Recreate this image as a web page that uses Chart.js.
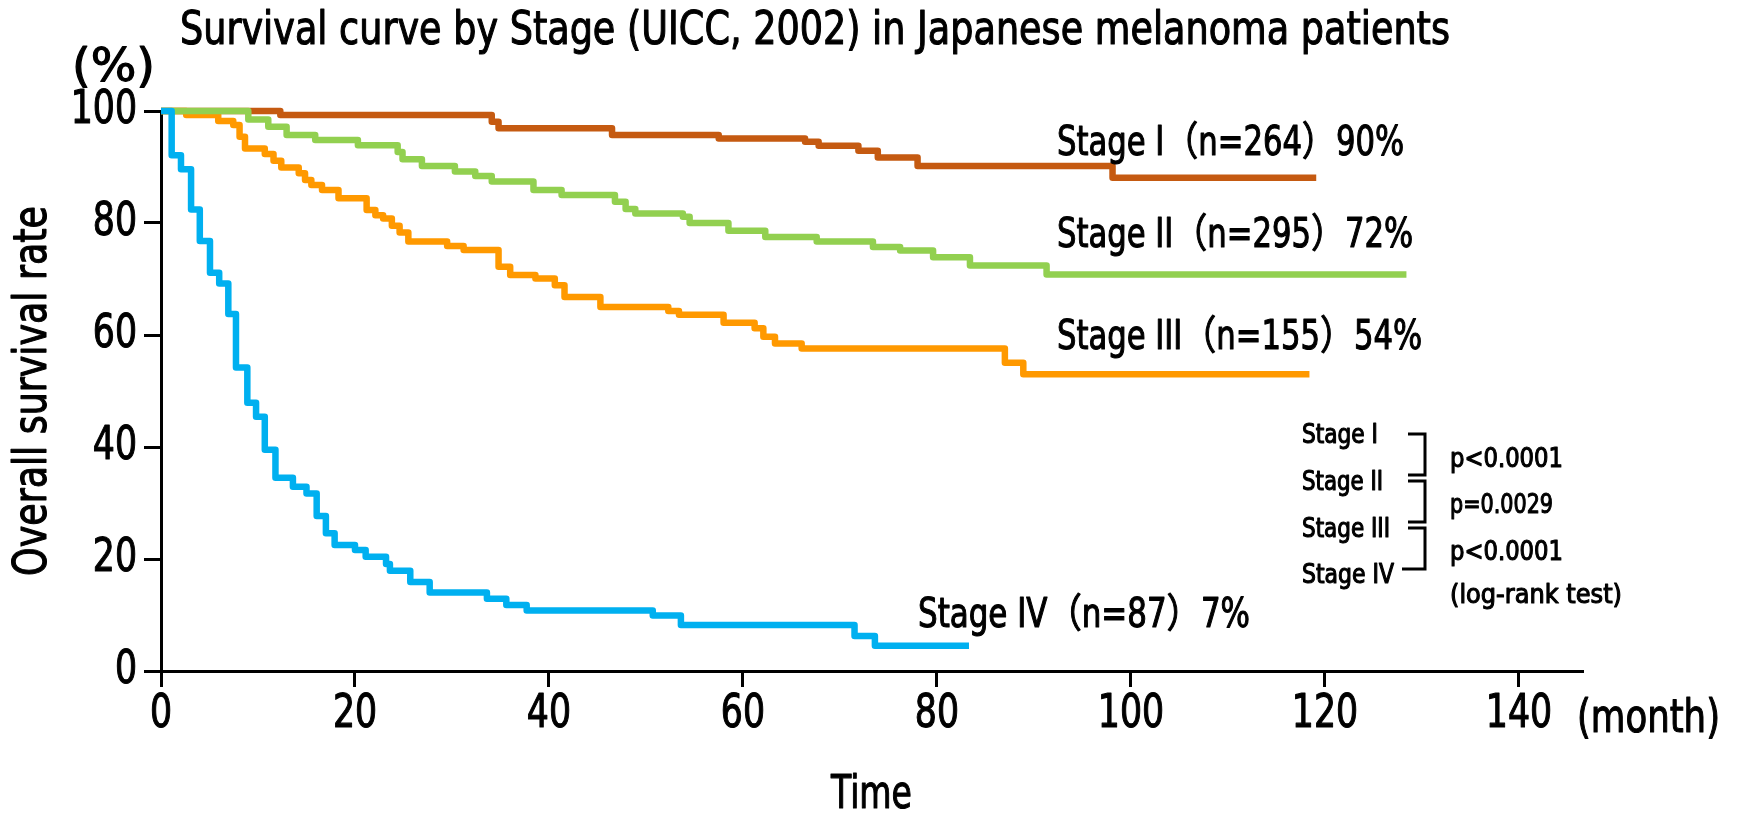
<!DOCTYPE html>
<html><head><meta charset="utf-8">
<script src="https://cdn.jsdelivr.net/npm/chart.js@4/dist/chart.umd.min.js"></script>
<style>html,body{margin:0;padding:0;background:#fff;}</style>
</head><body>
<canvas id="c" width="1740" height="814" style="display:block;width:1740px;height:814px"></canvas>
<script>
// ---- data (months, overall survival %) ----
const stageLabels = ['Stage I（n=264）90%', 'Stage II（n=295）72%', 'Stage III（n=155）54%', 'Stage IV（n=87）7%'];
const stage1Months = [0, 12.3, 34.1, 34.8, 46.5, 57.5, 66.4, 67.8, 71.9, 73.9, 78.0, 98.1, 119.1];
const stage1Surv   = [100, 99.3, 98.1, 96.9, 95.7, 95.1, 94.5, 93.8, 92.9, 91.7, 90.2, 88.1, 88.1];
const stage2Months = [0, 9.0, 11.06, 12.95, 15.9, 20.3, 24.4, 24.9, 26.9, 30.3, 32.4, 34.1, 38.4, 41.3, 46.8, 47.9, 48.9, 53.8, 54.5, 58.5, 62.3, 67.6, 73.4, 76.2, 79.6, 83.4, 91.3, 128.4];
const stage2Surv   = [100, 98.5, 97.2, 95.7, 94.8, 93.9, 92.7, 91.4, 90.2, 89.2, 88.4, 87.4, 85.9, 85.0, 83.8, 82.5, 81.7, 81.1, 80.0, 78.6, 77.5, 76.7, 75.7, 75.1, 73.9, 72.4, 70.8, 70.8];
const stage3Months = [0, 2.6, 5.9, 7.45, 8.1, 8.66, 10.7, 11.6, 12.4, 14.2, 14.85, 15.5, 16.6, 18.3, 21.2, 22.1, 22.9, 23.8, 24.6, 25.5, 29.5, 31.2, 34.8, 36.0, 38.6, 40.6, 41.6, 45.3, 52.3, 53.4, 58.0, 61.2, 62.1, 63.3, 66.05, 87.0, 88.9, 118.4];
const stage3Surv   = [100, 99.3, 98.2, 97.5, 95.4, 93.3, 92.3, 91.1, 89.9, 88.9, 87.7, 86.8, 85.9, 84.4, 82.3, 81.4, 80.8, 79.5, 78.3, 76.7, 75.9, 75.2, 72.2, 70.7, 70.1, 68.9, 66.8, 65.0, 64.3, 63.6, 62.2, 61.2, 59.7, 58.5, 57.6, 55.05, 53.0, 53.0];
const stage4Months = [0, 1.1, 2.06, 3.1, 4.0, 5.05, 6.0, 6.94, 7.73, 8.9, 9.8, 10.7, 11.8, 13.6, 15.0, 16.05, 17.0, 17.9, 20.0, 21.1, 23.2, 23.6, 25.7, 27.7, 33.6, 35.6, 37.7, 50.7, 53.6, 71.5, 73.6, 83.3];
const stage4Surv   = [100, 92.1, 89.6, 82.4, 76.8, 71.1, 69.2, 63.75, 54.2, 47.9, 45.4, 39.5, 34.5, 32.9, 31.7, 27.7, 24.6, 22.5, 21.6, 20.4, 19.1, 17.9, 15.9, 14.0, 12.9, 11.8, 10.8, 9.9, 8.2, 6.25, 4.5, 4.5];
const xTicks = [0, 20, 40, 60, 80, 100, 120, 140];
const yTicks = [0, 20, 40, 60, 80, 100];
const pairLabels = ['Stage I', 'Stage II', 'Stage III', 'Stage IV'];
const pValues = ['p<0.0001', 'p=0.0029', 'p<0.0001'];

const FONT = "'Liberation Sans Narrow', 'DejaVu Sans Condensed', 'Noto Sans CJK JP', sans-serif";
const colors = ['#C55A11', '#92D050', '#FF9900', '#00B0F0'];

// horizontal squeeze + slight emboldening for text drawn while active
const origFill = CanvasRenderingContext2D.prototype.fillText;
let HS = 1, EMB = 0;
CanvasRenderingContext2D.prototype.fillText = function (t, x, y, mw) {
  if (HS === 1 && !EMB) return origFill.call(this, t, x, y, mw);
  this.save();
  this.translate(x, y);
  this.scale(HS, 1);
  origFill.call(this, t, 0, 0);
  if (EMB) {
    this.lineWidth = EMB;
    this.lineJoin = 'round';
    this.strokeStyle = this.fillStyle;
    this.strokeText(t, 0, 0);
  }
  this.restore();
};

function pts(m, s) { return m.map((v, i) => ({ x: v, y: s[i] })); }

function fitText(ctx, text, x, y, width, size) {
  ctx.save();
  ctx.font = size + 'px ' + FONT;
  ctx.textBaseline = 'alphabetic';
  ctx.textAlign = 'left';
  ctx.fillStyle = '#000';
  const w = ctx.measureText(text).width;
  HS = width / w; EMB = 1.1;
  ctx.fillText(text, x, y);
  HS = 1; EMB = 0;
  ctx.restore();
}

const squeeze = { xTicks: 0.84, yTicks: 0.84, xTitle: 0.8, yTitle: 0.88 };

const textPlugin = {
  id: 'texts',
  afterLayout(chart) {
    ['x', 'y'].forEach(id => {
      const s = chart.scales[id];
      if (!s || s._sq) return;
      s._sq = true;
      const dl = s.drawLabels.bind(s), dt = s.drawTitle.bind(s);
      s.drawLabels = (...a) => { HS = squeeze[id + 'Ticks']; EMB = 1.1; dl(...a); HS = 1; EMB = 0; };
      s.drawTitle = (...a) => { HS = squeeze[id + 'Title']; EMB = 1.1; dt(...a); HS = 1; EMB = 0; };
    });
  },
  afterDraw(chart) {
    const ctx = chart.ctx;
    fitText(ctx, 'Survival curve by Stage (UICC, 2002) in Japanese melanoma patients', 180, 44, 1270, 46);
    fitText(ctx, '(%)', 72, 81, 83, 46);
    fitText(ctx, stageLabels[0], 1057, 155, 347, 40);
    fitText(ctx, stageLabels[1], 1057, 247, 356, 40);
    fitText(ctx, stageLabels[2], 1057, 349, 365, 40);
    fitText(ctx, stageLabels[3], 918, 627, 332, 40);
    fitText(ctx, '(month)', 1577, 732, 143, 46);
    const lb = [443, 490, 537, 583], lw = [76, 81, 88, 92];
    pairLabels.forEach((t, i) => fitText(ctx, t, 1302, lb[i], lw[i], 26));
    const pb = [467, 513, 560], pw = [113, 103, 113];
    pValues.forEach((t, i) => fitText(ctx, t, 1450, pb[i], pw[i], 27));
    fitText(ctx, '(log-rank test)', 1450, 603, 172, 27);
    ctx.save();
    ctx.strokeStyle = '#000';
    ctx.lineWidth = 3;
    ctx.lineCap = 'butt';
    const br = [[1408, 434, 475, 1408], [1408, 481, 522, 1408], [1408, 528, 569, 1402]];
    br.forEach(([x0, y0, y1, x2]) => {
      ctx.beginPath();
      ctx.moveTo(x0, y0); ctx.lineTo(1425, y0); ctx.lineTo(1425, y1); ctx.lineTo(x2, y1);
      ctx.stroke();
    });
    ctx.restore();
  }
};

const seriesM = [stage1Months, stage2Months, stage3Months, stage4Months];
const seriesS = [stage1Surv, stage2Surv, stage3Surv, stage4Surv];
const orders = [4, 2, 3, 1];

new Chart(document.getElementById('c'), {
  type: 'line',
  data: {
    datasets: seriesM.map((m, i) => ({
      label: stageLabels[i],
      data: pts(m, seriesS[i]),
      borderColor: colors[i],
      backgroundColor: colors[i],
      borderWidth: 6.5,
      stepped: 'before',
      pointRadius: 0,
      borderJoinStyle: 'round',
      borderCapStyle: 'butt',
      fill: false,
      clip: 12,
      order: orders[i]
    }))
  },
  options: {
    responsive: false,
    animation: false,
    devicePixelRatio: 1,
    layout: { padding: { top: 111, right: 158, bottom: 0, left: 0 } },
    plugins: { legend: { display: false }, tooltip: { enabled: false }, title: { display: false } },
    scales: {
      x: {
        type: 'linear', min: 0, max: 146.5,
        afterBuildTicks: s => { s.ticks = xTicks.map(v => ({ value: v })); },
        afterFit: s => { s.height = 143; },
        ticks: { color: '#000', padding: 0, font: { family: FONT, size: 46 }, maxRotation: 0, autoSkip: false },
        grid: { drawOnChartArea: false, drawTicks: true, tickLength: 16, color: '#000', lineWidth: 3 },
        border: { display: true, color: '#000', width: 3 },
        title: { display: true, text: 'Time', color: '#000', font: { family: FONT, size: 46, lineHeight: 0.76 }, padding: { top: 0, bottom: 0 } }
      },
      y: {
        type: 'linear', min: 0, max: 100,
        afterBuildTicks: s => { s.ticks = yTicks.map(v => ({ value: v })); },
        afterFit: s => { s.width = 161; },
        ticks: { color: '#000', padding: 7, font: { family: FONT, size: 46 } },
        grid: { drawOnChartArea: false, drawTicks: true, tickLength: 17, color: '#000', lineWidth: 3 },
        border: { display: true, color: '#000', width: 3 },
        title: { display: true, text: 'Overall survival rate', color: '#000', font: { family: FONT, size: 46 }, padding: { top: 6, bottom: 0 } }
      }
    }
  },
  plugins: [textPlugin]
});
</script>
</body></html>
